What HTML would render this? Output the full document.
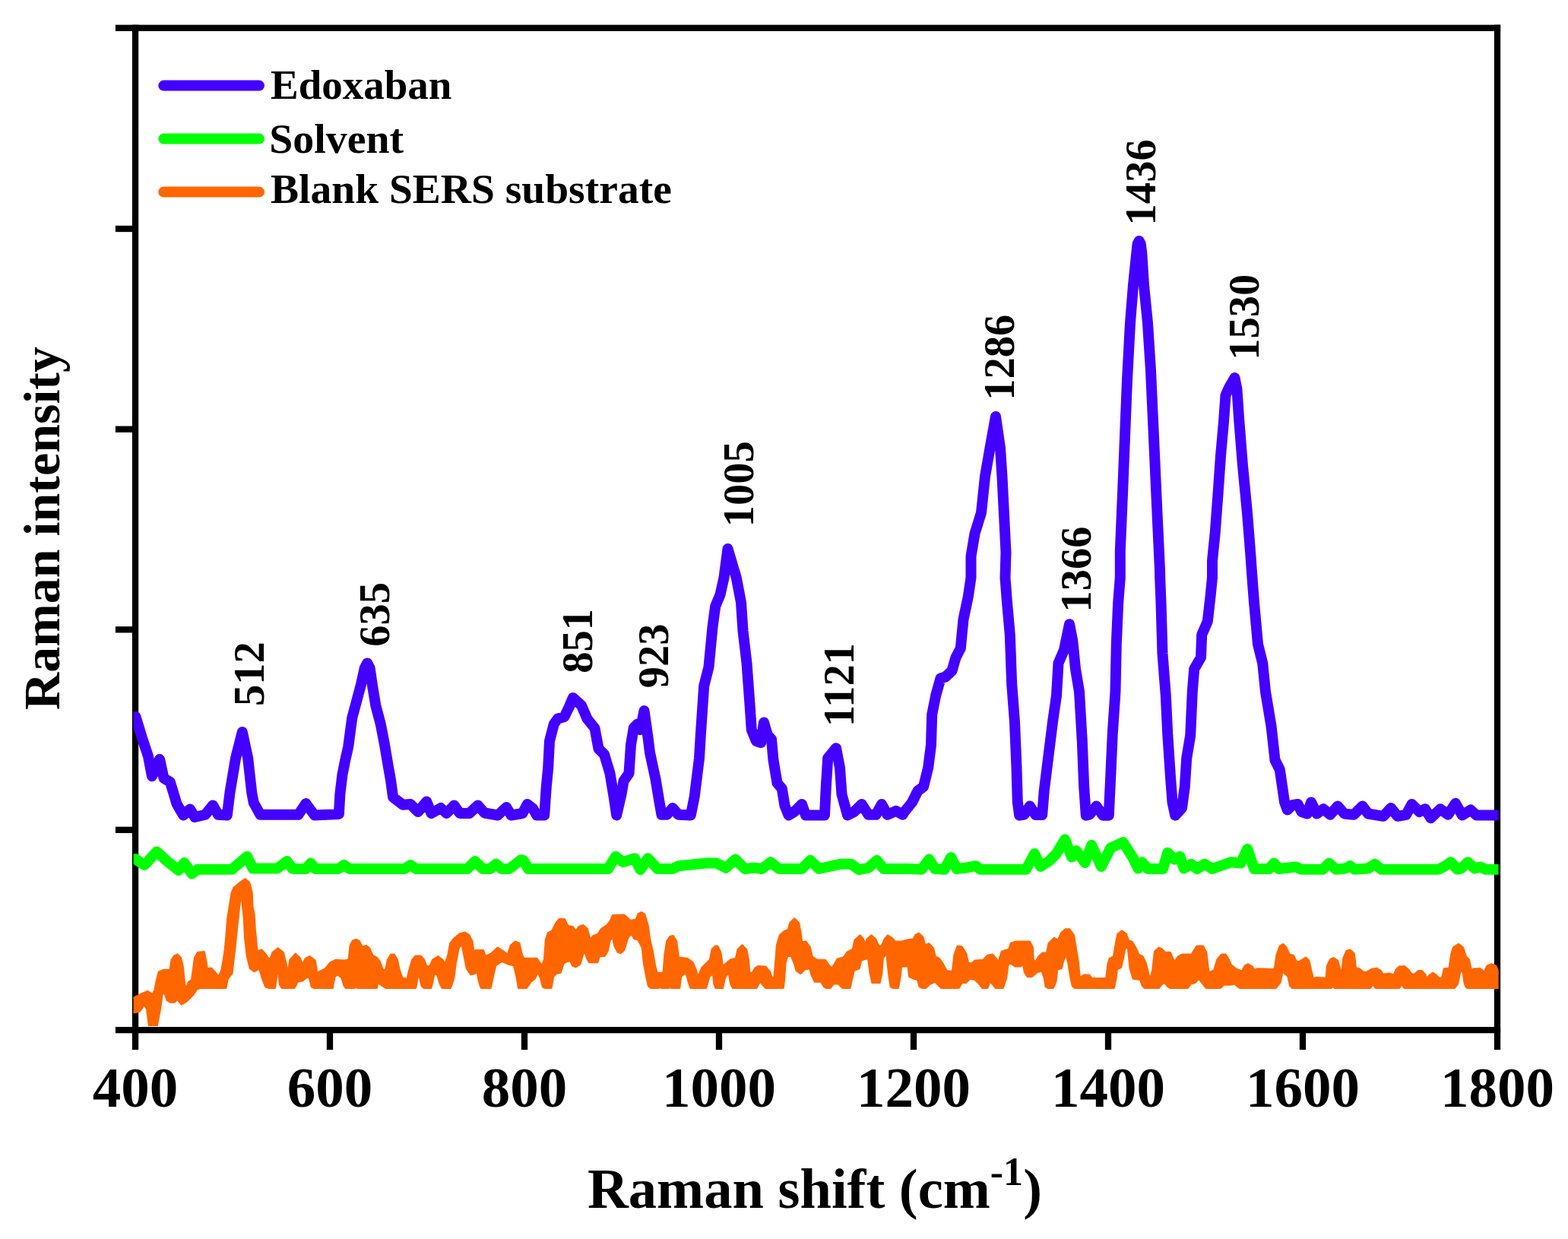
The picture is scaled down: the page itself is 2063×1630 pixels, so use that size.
<!DOCTYPE html>
<html lang="en"><head><meta charset="utf-8"><title>SERS Raman spectra of edoxaban</title>
<style>
html,body{margin:0;padding:0;background:#fff;}
body{width:2063px;height:1630px;overflow:hidden;}
svg{display:block;}
text{font-family:"Liberation Serif","Times New Roman",Times,serif;font-weight:bold;fill:#000;}
.tick{font-size:75px;text-anchor:middle;}
.leg{font-size:55px;}
.pk{font-size:58px;}
.ax{font-size:74.5px;text-anchor:middle;}
.ay{font-size:68px;text-anchor:middle;}
.ln{fill:none;stroke-width:14;stroke-linejoin:round;stroke-linecap:round;}
</style></head><body>
<svg width="2063" height="1630" viewBox="0 0 2063 1630">
<defs><clipPath id="plotclip"><rect x="175.5" y="40" width="1796" height="1310"/></clipPath></defs>
<rect width="2063" height="1630" fill="#fff"/>
<g id="axes" fill="#000">
<rect x="151.9" y="32.65" width="1822.25" height="8.3"/>
<rect x="151.9" y="1350.95" width="1822.25" height="8.3"/>
<rect x="173.9" y="32.65" width="8.3" height="1348.45"/>
<rect x="1965.85" y="32.65" width="8.3" height="1348.45"/>
<rect x="429.85" y="1355.1" width="8.3" height="26"/>
<rect x="685.85" y="1355.1" width="8.3" height="26"/>
<rect x="941.85" y="1355.1" width="8.3" height="26"/>
<rect x="1197.85" y="1355.1" width="8.3" height="26"/>
<rect x="1453.85" y="1355.1" width="8.3" height="26"/>
<rect x="1709.85" y="1355.1" width="8.3" height="26"/>
<rect x="151.9" y="296.85" width="26" height="8.3"/>
<rect x="151.9" y="560.55" width="26" height="8.3"/>
<rect x="151.9" y="824.15" width="26" height="8.3"/>
<rect x="151.9" y="1087.65" width="26" height="8.3"/>
</g>
<g id="curves" clip-path="url(#plotclip)">
<polygon id="blank" fill="#ff6600" stroke="#ff6600" stroke-width="3" stroke-linejoin="round" points="170,1312.6 176.7,1312.6 184.8,1308.5 194.3,1304.5 201,1308.5 203.7,1303.1 206.4,1289.6 209.1,1278.9 215.9,1276.2 224,1276.2 226,1262.7 229.4,1257.9 233.4,1255.9 237.5,1260 240.2,1270.8 242.2,1289.6 244.2,1303.1 248.3,1292.3 252.3,1289.6 254.3,1276.2 256.4,1260 260.4,1253.2 268.5,1252.5 270.5,1262.7 272.6,1274.8 278,1274.1 284.7,1281.6 287.4,1285.6
291.5,1277.5 294.2,1262.7 296.2,1249.2 298.2,1227.6 299.6,1208.7 302.9,1188.4 305,1174.9 307.7,1168.2 315.7,1161.4 322.5,1156.7 327.9,1161.4 331.3,1174.9 331.9,1192.5 334,1201.9 335.3,1222.2 337.3,1242.4 338,1251.9 344.1,1249.8 349.5,1255.9 354.9,1264 358.9,1253.2 365.7,1247.8 372.4,1253.2 376.5,1269.4 378.5,1282.9 381.9,1262.7 388.6,1255.2 394,1260
398.1,1269.4 402.1,1261.3 407.5,1258.6 414.3,1264 417,1280.2 428,1274.8 434.7,1266.7 441.5,1263.3 453.6,1264 459,1262.7 461.1,1243.8 464.4,1237.7 468.5,1236.3 472.5,1238.4 476.6,1246.5 482,1244.4 486,1247.8 490.1,1257.3 495.5,1260 499.5,1265.4 503.6,1276.2 507.6,1276.2 510.3,1262.7 514.4,1255.9 518.4,1255.9 522.5,1262.7 525.2,1276.2 529.2,1286.9
536,1288.3 538.7,1276.2 542.7,1262.7 546.8,1257.9 553.5,1257.9 557.6,1262.7 560.9,1271.4 565.7,1271.4 569.7,1262.7 576.4,1258.6 581.8,1262.7 585.9,1269.4 589.9,1255.9 592.6,1241.1 598,1234.3 604.8,1228.9 611.5,1226.9 616.9,1230.3 621,1238.4 623,1251.9 626.4,1250.5 635.8,1250.5 638.5,1258.6 646.6,1254.6 654.7,1247.1 660.1,1250.5 668.2,1255.9 672.3,1243.8
677.7,1239 683.1,1241.1 686,1254.6 688.7,1261.3 706.2,1261.3 713,1270.8 716.4,1262.7 718.4,1235.7 721.1,1227.6 726.5,1224.9 731.9,1214.1 735.9,1209.4 742.7,1209.4 746.7,1218.1 753.5,1219.5 757.5,1225.5 761.6,1219.5 767,1217.4 772.4,1222.2 776.4,1237 780.5,1231.6 787.2,1228.9 791.3,1222.2 798,1218.1 803.4,1211.4 806.1,1204.6 821,1204 826.4,1208.7
829,1211.4 837.1,1210 839.8,1202.6 843.9,1200.6 847.9,1203.3 852,1216.8 854.7,1235.7 858.7,1253.2 861.4,1269.4 864.1,1280.2 872.9,1280.2 874.9,1255.9 877.6,1238.4 881.7,1232.3 885.7,1231.6 889.8,1238.4 892.5,1260 904.6,1261.3 911.4,1266.7 915.4,1276.2 918.1,1286.9 923.5,1273.5 934.3,1262.7 937,1249.2 941.1,1245.1 944,1245.1 948,1253.2 950.7,1272.1
954.8,1268.1 961.5,1262.7 968.3,1261.3 971,1249.2 976.4,1243.8 981.8,1249.2 984.5,1262.7 985.8,1280.2 989.9,1280.2 993.9,1273.5 998,1271.4 1007.4,1272.1 1012.8,1278.9 1015.5,1286.9 1018.9,1285.6 1020.9,1262.7 1022.3,1243.8 1026.3,1230.3 1031.7,1225.5 1037.1,1223.5 1039.8,1214.1 1045.2,1208.7 1050.6,1214.1 1053.3,1227.6 1054.7,1239.7 1060.1,1239 1065.5,1246.5 1068.2,1258.6
1074.9,1263.3 1085.7,1263.3 1091.1,1270.8 1093.8,1274.1 1097.8,1269.4 1101.9,1262 1110,1260 1115.4,1252.5 1122.1,1249.2 1124.8,1237 1131.6,1230.9 1135.6,1235.7 1138.3,1242.4 1141,1235.7 1146.4,1230.9 1151.8,1235.7 1155.9,1245.1 1159.9,1245.1 1164,1235.7 1168,1230.9 1173.4,1234.3 1177.5,1239 1186.9,1239 1193.7,1237 1202,1235.7 1204.7,1230.3 1208.7,1228.2 1214.1,1233
1216.8,1243.8 1222.2,1241.7 1227.6,1247.8 1230.3,1258.6 1235.7,1261.3 1241.1,1269.4 1245.2,1277.5 1253.3,1278.2 1256,1255.9 1260,1245.1 1265.4,1245.8 1270.8,1254.6 1273.5,1266.7 1277.6,1268.1 1283,1264 1293.8,1263.3 1299.2,1257.3 1305.9,1255.9 1311.3,1262.7 1314,1265.4 1318.1,1251.9 1327.5,1249.2 1330.2,1241.1 1337,1239 1354.5,1239 1358.5,1246.5 1359.2,1262.7 1362.6,1266
1366.6,1258.6 1372,1253.9 1377.4,1253.9 1380.1,1241.1 1386.9,1234.3 1392.3,1237 1396.3,1227.6 1401.7,1222.8 1407.1,1222.8 1412.5,1230.3 1415.2,1246.5 1417.9,1262.7 1420.6,1286.9 1426,1282.9 1432.8,1282.9 1436.8,1287.6 1455.7,1287.6 1457.7,1269.4 1460,1261.3 1465.4,1258.6 1468.1,1242.4 1470.8,1228.9 1476.2,1224.9 1481.6,1228.9 1484.3,1237 1489.7,1239.7 1495.1,1249.2 1497.8,1255.9
1503.2,1258.6 1507.2,1266.7 1511.3,1282.9 1514,1288.3 1516.7,1276.2 1519.4,1251.9 1524.8,1247.1 1528.8,1249.2 1532.9,1253.2 1539.6,1253.2 1542.3,1260 1545,1266 1550.4,1258.6 1555.8,1255.9 1568,1255.9 1572,1249.2 1574.7,1245.1 1582.8,1245.1 1586.9,1253.2 1589.6,1276.2 1590.9,1280.2 1597.7,1276.2 1601.7,1262.7 1607.1,1255.9 1612.5,1255.9 1616.5,1262.7 1619.2,1269.4 1626,1274.8
1634.1,1278.2 1638.1,1270.8 1642.2,1268.7 1647.6,1272.1 1650.3,1276.2 1654.3,1274.8 1673.2,1275.5 1677.3,1274.8 1680,1255.9 1684,1245.1 1688.1,1242.4 1692.1,1246.5 1696.2,1255.9 1701.6,1257.3 1705.6,1265.4 1709.7,1265.4 1718,1260 1722,1264 1724.7,1276.2 1727.4,1287.6 1732.8,1286.3 1745,1287.6 1746.3,1270.8 1750.4,1262.7 1754.4,1260.6 1759.8,1264 1763.9,1278.9 1765.2,1282.9
1767.9,1260 1772,1251.2 1776,1249.8 1781.4,1254.6 1783.5,1273.5 1788.2,1274.8 1793.6,1278.9 1797.6,1279.5 1804.4,1275.5 1811.1,1274.1 1816.5,1277.5 1819.2,1282.2 1827.3,1280.9 1834.1,1282.9 1836.8,1276.2 1840.8,1272.1 1847.6,1271.4 1853,1276.2 1857,1281.6 1861,1282.2 1866.4,1277.5 1870.5,1277.5 1874.5,1281.6 1877.2,1287.6 1881.3,1282.9 1885.3,1280.2 1889.4,1282.9 1893.4,1287.6
1897.5,1286.9 1900.2,1274.8 1906.9,1274.1 1909.6,1255.9 1912.3,1246.5 1919.1,1242.4 1924.5,1246.5 1928.5,1258.6 1932.6,1262.7 1935.3,1276.2 1939.3,1274.8 1947.4,1274.8 1952.8,1278.9 1956.9,1270.8 1962.3,1268.7 1967.7,1270.8 1973.1,1281.6 1973.1,1299.4 1929.9,1299.4 1927.2,1294 1925.2,1280.5 1923.1,1273.8 1920.4,1280.5 1917.7,1294 1913.7,1299.4 1847.6,1299.4 1844.2,1294 1840.8,1299.4
1809.8,1299.4 1806.4,1294 1803,1299.4 1755.8,1299.4 1753.8,1296.7 1751.7,1299.4 1718,1299.4 1700.2,1299.4 1697.5,1296.7 1694.8,1284.5 1689.4,1279.2 1686.7,1280.5 1684,1292.6 1678.6,1299.4 1631.4,1299.4 1628.7,1298 1624.6,1294 1617.9,1295.3 1609.8,1295.3 1605.7,1299.4 1586.9,1299.4 1581.5,1292.6 1577.4,1287.2 1572,1292.6 1566.6,1294 1562.6,1299.4 1539.6,1299.4 1536.9,1298
1532.9,1292.6 1528.8,1294 1524.8,1299.4 1505.9,1299.4 1503.2,1296.7 1500.5,1288.6 1491,1287.2 1487,1273.8 1484.3,1246.8 1480.2,1246.8 1477.5,1260.3 1474.8,1272.4 1469.4,1275.1 1468.1,1287.2 1465.4,1299.4 1460,1299.4 1413.9,1299.4 1411.2,1296.7 1408.5,1284.5 1405.8,1267 1403.1,1254.9 1399,1263 1396.3,1273.8 1390.9,1275.1 1388.9,1291.3 1385.5,1299.4 1378.8,1299.4 1376.1,1298
1374.1,1285.9 1370.7,1276.5 1363.9,1279.2 1357.2,1284.5 1351.8,1284.5 1348.4,1279.2 1346.4,1268.4 1342.4,1271.1 1335.6,1271.1 1330.2,1267 1326.2,1268.4 1323.5,1287.2 1319.4,1299.4 1310,1299.4 1305.9,1294 1301.9,1291.3 1299.2,1299.4 1292.4,1299.4 1288.4,1294 1283,1288.6 1276.2,1287.2 1270.8,1292.6 1265.4,1292.6 1261.4,1299.4 1238.4,1299.4 1235.7,1296.7 1230.3,1291.3 1223.6,1294
1218.2,1299.4 1212.8,1299.4 1210.1,1298 1207.4,1288.6 1202,1287.2 1196.4,1284.5 1195,1271.1 1185.6,1271.1 1184.2,1284.5 1181.5,1299.4 1174.8,1299.4 1172.1,1298 1169.4,1280.5 1166.7,1253.5 1161.3,1260.3 1159.9,1280.5 1157.2,1292.6 1147.8,1292.6 1145.1,1280.5 1142.4,1260.3 1132.9,1263 1130.2,1273.8 1123.5,1276.5 1120.8,1287.2 1118.1,1299.4 1108.6,1299.4 1103.2,1294 1096.5,1294
1092.4,1299.4 1087,1299.4 1084.4,1298 1080.3,1291.3 1072.2,1291.3 1068.2,1283.2 1065.5,1273.8 1058.7,1275.1 1053.3,1280.5 1047.9,1276.5 1045.2,1267 1041.2,1257.6 1035.8,1257.6 1033.1,1267 1031.7,1287.2 1030.4,1299.4 1007.4,1299.4 1004.7,1296.7 1000.7,1291.3 998,1294 995.3,1299.4 964.2,1299.4 961.5,1294 959.5,1281.8 956.1,1281.8 953.4,1287.2 950.7,1299.4 944,1299.4
941.7,1299.4 939.7,1294 938.4,1280.5 933,1284.5 928.9,1299.4 908.7,1299.4 906,1291.3 903.3,1280.5 899.2,1281.2 895.9,1284.5 893.8,1299.4 883,1299.4 881.7,1296.7 880.3,1299.4 869.5,1299.4 868.2,1296.7 866.8,1299.4 856,1299.4 853.3,1296.7 850.6,1284.5 847.3,1267 845.2,1246.8 839.8,1236 834.4,1234.6 831.7,1229.2 827.7,1230.6 825,1236 821,1249.5
816.9,1253.5 812.9,1252.2 808.8,1244.1 806.1,1231.9 802.1,1237.3 799.4,1250.8 795.3,1257.6 788.6,1257.6 785.9,1265.7 775.1,1265.7 772.4,1260.3 769.7,1250.8 767,1254.9 762.9,1268.4 757.5,1271.7 753.5,1270.4 750.8,1264.3 746.7,1264.3 741.3,1267 737.3,1279.2 731.9,1280.5 727.8,1284.5 725.1,1299.4 717,1299.4 714.3,1298 711.6,1287.2 707.6,1277.8 703.5,1287.2
698.1,1291.3 692.7,1299.4 686,1299.4 682.4,1299.4 680.4,1287.2 676.3,1269.7 669.6,1268.4 660.1,1264.3 652,1269.7 649.3,1280.5 645.3,1299.4 633.1,1299.4 630.4,1291.3 627.7,1276.5 625,1280.5 619.6,1281.8 614.2,1273.8 610.2,1253.5 607.5,1241.4 603.4,1246.8 599.4,1267 596.7,1287.2 592.6,1299.4 581.8,1299.4 579.1,1294 575.1,1280.5 571,1281.8 567,1299.4
557.6,1299.4 554.9,1296.7 552.2,1284.5 549.5,1284.5 546.8,1299.4 507.6,1299.4 499.5,1294 496.8,1291.3 495.5,1299.4 469.8,1299.4 468.5,1288.6 467.1,1299.4 455,1299.4 453,1296.7 449.6,1285.9 444.2,1281.8 440.1,1284.5 437.4,1299.4 428,1299.4 412.9,1299.4 410.2,1298 407.5,1287.2 404.8,1284.5 398.1,1289.9 391.3,1291.3 387.3,1299.4 371.1,1299.4 368.4,1295.3
367,1280.5 364.3,1280.5 361.6,1299.4 353.5,1299.4 349.5,1298 345.4,1287.2 341.4,1273.8 334.6,1277.8 329.2,1273.8 325.2,1257.6 322.5,1233.3 321.1,1206.3 318.4,1182 315.7,1183.3 311.7,1219.8 309,1246.8 305,1280.5 299.6,1287.2 296.9,1299.4 264.5,1299.4 259.1,1300.7 253.7,1308.8 245.6,1316.9 238.8,1321 233.4,1314.2 229.4,1318.3 224,1318.3 219.9,1315.6
215.9,1303.4 213.2,1308.8 210.5,1327.7 206.4,1349.3 196.3,1349.3 193.6,1327.7 190.2,1321 183.5,1330.4 176.7,1331.8 170,1331.8"/>
<polyline id="solvent" class="ln" stroke="#00ff00" points="178,1130 190,1138 206.2,1120.5 220,1133 235,1145 242.5,1135 252.5,1149.5 260,1143.8 305,1143.8 325,1126.8 332.5,1142.5 365,1142.5 377.5,1133 385,1143 402.5,1143 408.8,1135.5 415,1143 445,1143 452.5,1138 460,1143 532.5,1143 540,1138 547.5,1143 615,1143 625,1133 635,1143 645,1143 652.5,1136.8
660,1143 670,1143 680,1135.5 685,1131.2 688.8,1131.8 695,1143 800,1143 810,1126.8 820,1134.2 835,1129.2 842.5,1144.2 852.5,1129.2 865,1143 885,1143 892.5,1139.2 930,1135.5 942.5,1135.5 955,1141.8 967.5,1130.5 980,1143 992.5,1141.8 1002.5,1143 1013.8,1134.2 1025,1143 1055,1143 1066.2,1131.8 1077.5,1143 1105,1136.8
1120,1136.8 1130,1144.2 1142.5,1141.8 1153.8,1131.8 1162.5,1143 1195,1143 1212.5,1143.8 1222.5,1130.5 1230,1143 1242.5,1143.8 1251.2,1128 1258.8,1143 1270,1141.8 1283.8,1139.2 1290,1143.8 1350,1143.8 1361.2,1123 1368.8,1140 1380,1133 1390,1123 1401.2,1104.2 1410,1127.5 1416.2,1119.2 1427.5,1135 1436.2,1111.8 1448.8,1140 1461.2,1115.5 1477.5,1108
1490,1127.5 1497.5,1142.5 1502.5,1134.2 1510,1143 1530,1143 1536.2,1121.8 1545,1130.5 1552.5,1126.8 1557.5,1142.5 1567.5,1136.8 1575,1143 1585,1136.8 1595,1143 1620,1134.2 1632.5,1135.5 1641.2,1116.8 1650,1143 1670,1143 1676.2,1135.5 1682.5,1143 1705,1140.5 1712.5,1143.8 1740,1143.8 1748.8,1135.5 1757.5,1143.8 1770,1142.5 1776.2,1139.2 1782.5,1143.8
1800,1142.5 1808.8,1136.8 1817.5,1143.8 1892.5,1143.8 1900,1140 1908.8,1134.2 1917.5,1143.8 1922.5,1142.5 1931.2,1134.2 1940,1142.5 1947.5,1140.5 1955,1143.8 1970,1143.8"/>
<polyline id="edoxaban" class="ln" stroke="#4400ff" points="178.5,943 187.5,972.5 195,995 200,1021.2 205,1010 210,998.8 215.5,1023.8 223.8,1028.8 228.8,1045 232.5,1057.5 241.2,1072.5 250,1064.5 256.2,1075 270,1071.8 280,1059.5 287,1071.8 298.8,1072.5 302.5,1042.5 310,997.5 318.8,963 326.2,997.5 331.2,1042.5 333.8,1056.2 342.5,1071.8 392.5,1071.8 402.5,1057 413.8,1072.5 445.9,1070.9
447.4,1044.4 450.4,1019.4 454.2,1000.2 458.2,982.5 460.7,963.4 463.3,944.3 469.2,922.2 475.1,900.1 479.8,878.7 483.2,872.4 486.6,878.7 489.8,900.8 494.3,928.1 500.9,953.1 506,979.6 510.2,1004.6 514.1,1026.7 517.1,1048.8 530,1058.8 540,1058 550,1068 561.2,1054.5 567.5,1070 580,1063 587.5,1070 597.5,1059.5 605,1070 617.5,1070
628.8,1059.5 637.5,1069.5 655,1072.5 666.2,1062 672.5,1072.5 685,1070.5 687.5,1070 693.8,1058 701.2,1063.8 706.2,1072.5 716.2,1072.5 718.8,1035 721.2,1010 723,975 728.8,952.5 733.8,945.5 742.5,943 748.8,930 753.8,918 765,928 772.5,945.5 782.5,958 787.5,985 795,992.5 802.5,1017.5 807.5,1047.5 811.2,1072.5 817.5,1045
820.5,1027.5 827.5,1017.5 830,980 833.8,957.5 838.8,952.5 842.5,960 847.5,935 852.5,970 855,990 862.5,1025 867.5,1055 870.5,1071.8 877.5,1071.8 885,1063 892.5,1071.8 908.8,1072.5 913.8,1047.5 920,997.5 921.8,967.5 926.2,902.5 932.5,877.5 937.5,825 941.2,797.5 947.5,782.5 952.5,760 957.5,722 968.8,760 975,792.5
977.5,830 982.5,872.5 986.2,922.5 988.8,960 995,975 1001.2,977 1005,950.5 1010,967.5 1015,972.5 1017.5,1000 1022.5,1030 1028.8,1037.5 1032.5,1060 1037.5,1072.5 1045,1068 1055,1058 1060,1072.5 1085,1072.5 1086.8,1035 1089.2,997.5 1100,984.2 1105,1010 1107.5,1045 1115,1072.5 1123.8,1068 1133.8,1058 1142.5,1071.8 1152.5,1071.8
1160,1058 1167.5,1071.8 1178.8,1066.8 1187.5,1071.8 1190,1068 1200,1055.5 1207.5,1040.5 1215,1035 1221.2,1010 1225,980 1226.2,940 1231.2,915 1237.5,892.5 1243.8,890.5 1252.5,882.5 1257.5,865 1263.8,853 1267.5,815 1273.8,785 1277.5,760 1277.5,732 1282.5,702 1291,674.5 1296,627 1302.5,589.5 1310,548 1316,589.5 1318.5,627
1321,677 1323.5,727 1322.5,760 1325,792.5 1328.8,835 1331.2,900 1335,950 1337.5,1010 1338.8,1055 1341.2,1072.7 1347.5,1071.5 1355,1060.5 1362.5,1072 1371.2,1072 1373.8,1040 1380,990 1385,950 1390,915 1392.5,872.5 1400,855 1407,821.2 1411.2,842.5 1415,880 1420,910 1423.8,975 1426.2,1035 1428.8,1072.7 1433.8,1071.5
1442.5,1060.5 1451.2,1072.7 1458.8,1072.7 1461.2,1022.5 1463.8,965 1467.5,910 1468.8,847.5 1471.2,792.5 1473.8,760 1473.8,725 1477,650 1480,575 1483,500 1487,425 1491,375 1495.3,333 1496.6,321 1498.7,317 1500.8,321 1502.3,333 1505,375 1510,425 1514,487.5 1518,575 1522.5,675 1526,750 1526.2,760 1527.5,792.5
1529.5,860 1533.8,915 1536.2,965 1540,1022.5 1542.5,1055 1546.2,1072.7 1555,1063 1558.8,1035 1561.2,997.5 1566.2,967.5 1568.8,910 1571.2,880 1580,865 1581.2,835 1588.8,817.5 1592.5,785 1595,760 1595,737.5 1598.8,700 1602.5,650 1606,600 1610,555 1612.5,520 1617,510 1624.5,497 1627.5,512.5 1630,550 1635,612.5
1641,675 1645,725 1647.5,760 1650,792.5 1655,847.5 1661.2,872.5 1665,910 1672.5,955 1677.5,1000 1683.8,1012.5 1690,1055 1693.8,1065.5 1700,1059.2 1707.5,1058 1712.5,1068 1720,1070.5 1725,1055.5 1732.5,1070.5 1741.2,1064.2 1750,1071.8 1760,1060.5 1768.8,1070.5 1781.2,1071.8 1792.5,1060.5 1800,1070.5 1820,1073.8 1830,1063 1838.8,1073.8
1850,1071.8 1857.5,1058 1867.5,1068 1875,1064.2 1882.5,1076.2 1895,1064.2 1905,1071.8 1915,1056.8 1923.8,1072.5 1935,1065.5 1942.5,1072.5 1970,1072.5"/>
</g>
<g id="ticklabels">
<text class="tick" x="178" y="1456.3">400</text>
<text class="tick" x="434" y="1456.3">600</text>
<text class="tick" x="690" y="1456.3">800</text>
<text class="tick" x="946" y="1456.3">1000</text>
<text class="tick" x="1202" y="1456.3">1200</text>
<text class="tick" x="1458" y="1456.3">1400</text>
<text class="tick" x="1714" y="1456.3">1600</text>
<text class="tick" x="1970" y="1456.3">1800</text>
</g>
<g id="legend">
<line class="ln" stroke="#4400ff" x1="215.3" y1="112.6" x2="341" y2="112.6"/>
<text class="leg" x="356" y="130">Edoxaban</text>
<line class="ln" stroke="#00ff00" x1="215.3" y1="182.6" x2="341" y2="182.6"/>
<text class="leg" transform="translate(354.3,200.7) scale(1.015,1)">Solvent</text>
<line class="ln" stroke="#ff6600" x1="215.3" y1="252.6" x2="341" y2="252.6"/>
<text class="leg" transform="translate(356,267) scale(1.01,1)">Blank SERS substrate</text>
</g>
<g id="peaks">
<text class="pk" transform="translate(347.3,929) rotate(-90) scale(0.975,1)">512</text>
<text class="pk" transform="translate(512,850.7) rotate(-90) scale(0.975,1)">635</text>
<text class="pk" transform="translate(778.5,885.8) rotate(-90) scale(0.975,1)">851</text>
<text class="pk" transform="translate(879,905.2) rotate(-90) scale(0.975,1)">923</text>
<text class="pk" transform="translate(991.3,693.3) rotate(-90) scale(0.975,1)">1005</text>
<text class="pk" transform="translate(1122.5,956) rotate(-90) scale(0.975,1)">1121</text>
<text class="pk" transform="translate(1333.5,526.8) rotate(-90) scale(0.975,1)">1286</text>
<text class="pk" transform="translate(1434.8,805.5) rotate(-90) scale(0.975,1)">1366</text>
<text class="pk" transform="translate(1520.3,296.4) rotate(-90) scale(0.975,1)">1436</text>
<text class="pk" transform="translate(1655.5,473.7) rotate(-90) scale(0.975,1)">1530</text>
</g>
<g id="axislabels">
<text class="ax" x="1072" y="1589">Raman shift (cm<tspan dy="-30" font-size="52">-1</tspan><tspan dy="30">)</tspan></text>
<text class="ay" transform="translate(78,695) rotate(-90)">Raman intensity</text>
</g>
</svg>
</body></html>
